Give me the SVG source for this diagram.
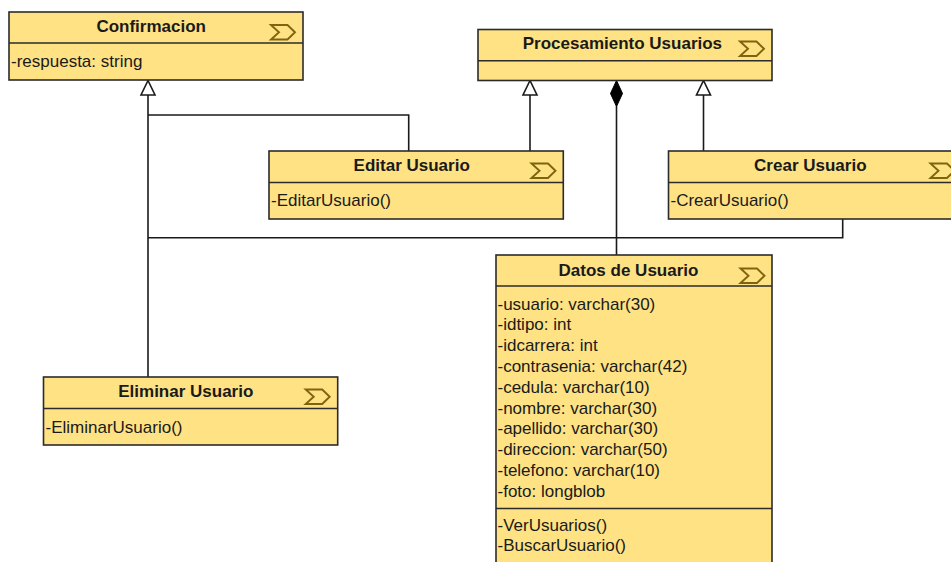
<svg xmlns="http://www.w3.org/2000/svg" width="951" height="562" viewBox="0 0 951 562">
  <style>
    .box { fill: #FEE284; stroke: #2b2b2b; stroke-width: 1.6; }
    .div { stroke: #2b2b2b; stroke-width: 1.6; fill: none; }
    .title { font-family: "Liberation Sans", Arial, sans-serif; font-size: 17px; font-weight: bold; fill: #1a1a1a; text-anchor: middle; }
    .attr { font-family: "Liberation Sans", Arial, sans-serif; font-size: 17px; fill: #1a1a1a; }
    .ico { fill: none; stroke: #7F6410; stroke-width: 1.9; stroke-linejoin: miter; }
    .edge { fill: none; stroke: #1a1a1a; stroke-width: 1.6; }
    .gen { fill: #ffffff; stroke: #1a1a1a; stroke-width: 1.6; }
    .comp { fill: #000000; stroke: #000000; stroke-width: 1; }
  </style>
  <defs>
    <!-- process / control stereotype chevron -->
    <path id="chev" class="ico" d="M0,0 H16.5 L24,7.25 L16.5,14.5 H0 L8,7.25 Z"/>
  </defs>

  <rect width="951" height="562" fill="#ffffff"/>

  <!-- connectors -->
  <g id="connectors">
    <!-- generalizations into Confirmacion -->
    <polyline class="edge" points="148,95 148,377"/>
    <polyline class="edge" points="148,115 408.7,115 408.7,151"/>
    <polyline class="edge" points="148,237.7 842.7,237.7 842.7,219"/>
    <polygon class="gen" points="148,80.5 141,95 155,95"/>
    <!-- generalizations into Procesamiento Usuarios -->
    <line class="edge" x1="530" y1="95" x2="530" y2="151"/>
    <polygon class="gen" points="530,80.5 523,95 537,95"/>
    <line class="edge" x1="703.5" y1="95" x2="703.5" y2="151"/>
    <polygon class="gen" points="703.5,80.5 696.5,95 710.5,95"/>
    <!-- composition with Datos de Usuario -->
    <line class="edge" x1="616.5" y1="106" x2="616.5" y2="255"/>
    <polygon class="comp" points="616.5,80.5 622.5,93.5 616.5,106.5 610.5,93.5"/>
  </g>

  <g id="confirmacion">
    <rect class="box" x="9" y="12" width="294" height="68"/>
    <line class="div" x1="9" y1="43" x2="303" y2="43"/>
    <text class="title" x="151.2" y="32.3">Confirmacion</text>
    <use href="#chev" x="271" y="25"/>
    <text class="attr" x="11" y="66.5">-respuesta: string</text>
  </g>

  <g id="procesamiento-usuarios">
    <rect class="box" x="478" y="29.5" width="294" height="51"/>
    <line class="div" x1="478" y1="60.7" x2="772" y2="60.7"/>
    <text class="title" x="622.4" y="49.3">Procesamiento Usuarios</text>
    <use href="#chev" x="740" y="41.5"/>
  </g>

  <g id="editar-usuario">
    <rect class="box" x="269" y="151" width="294.3" height="68"/>
    <line class="div" x1="269" y1="182.5" x2="563.3" y2="182.5"/>
    <text class="title" x="411.7" y="170.7">Editar Usuario</text>
    <use href="#chev" x="531.5" y="163.5"/>
    <text class="attr" x="271" y="205.8">-EditarUsuario()</text>
  </g>

  <g id="crear-usuario">
    <rect class="box" x="668.5" y="151" width="294" height="68"/>
    <line class="div" x1="668.5" y1="182.5" x2="962.5" y2="182.5"/>
    <text class="title" x="810.3" y="170.7">Crear Usuario</text>
    <use href="#chev" x="930.5" y="163.5"/>
    <text class="attr" x="670.5" y="205.8">-CrearUsuario()</text>
  </g>

  <g id="eliminar-usuario">
    <rect class="box" x="43.5" y="377" width="294.2" height="68"/>
    <line class="div" x1="43.5" y1="408.5" x2="337.7" y2="408.5"/>
    <text class="title" x="185.8" y="396.5">Eliminar Usuario</text>
    <use href="#chev" x="305.7" y="389.5"/>
    <text class="attr" x="45.5" y="432.5">-EliminarUsuario()</text>
  </g>

  <g id="datos-de-usuario">
    <rect class="box" x="496" y="255" width="276" height="320"/>
    <line class="div" x1="496" y1="286" x2="772" y2="286"/>
    <line class="div" x1="496" y1="508.5" x2="772" y2="508.5"/>
    <text class="title" x="628.5" y="275.7">Datos de Usuario</text>
    <use href="#chev" x="740.5" y="268.5"/>
    <text class="attr" x="497.5" y="309.5">-usuario: varchar(30)</text>
    <text class="attr" x="497.5" y="330.3">-idtipo: int</text>
    <text class="attr" x="497.5" y="351.1">-idcarrera: int</text>
    <text class="attr" x="497.5" y="371.9">-contrasenia: varchar(42)</text>
    <text class="attr" x="497.5" y="392.7">-cedula: varchar(10)</text>
    <text class="attr" x="497.5" y="413.5">-nombre: varchar(30)</text>
    <text class="attr" x="497.5" y="434.3">-apellido: varchar(30)</text>
    <text class="attr" x="497.5" y="455.1">-direccion: varchar(50)</text>
    <text class="attr" x="497.5" y="475.9">-telefono: varchar(10)</text>
    <text class="attr" x="497.5" y="496.7">-foto: longblob</text>
    <text class="attr" x="497.5" y="531">-VerUsuarios()</text>
    <text class="attr" x="497.5" y="550.7">-BuscarUsuario()</text>
  </g>
</svg>
